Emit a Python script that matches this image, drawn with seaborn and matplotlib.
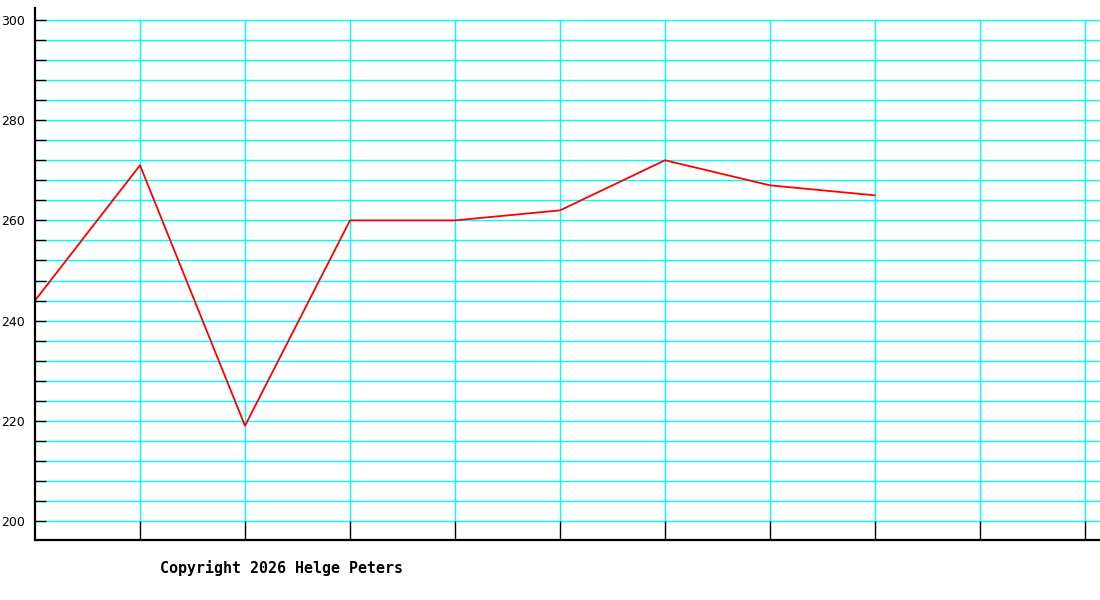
import matplotlib
matplotlib.use("Agg")
import matplotlib.pyplot as plt
import numpy as np
import pandas as pd
import seaborn as sns

# values
x_pos = [0, 1, 2, 3, 4, 5, 6, 7, 8]
values = [244, 271, 219, 260, 260, 262, 272, 267, 265]
y_major = [200, 220, 240, 260, 280, 300]
y_minor = list(range(200, 301, 4))
x_grid = [1, 2, 3, 4, 5, 6, 7, 8, 9, 10]


def draw():
    sns.set_style("white")
    plt.rcParams['font.family'] = ['DejaVu Sans']

    fig = plt.figure(figsize=(11, 6), dpi=100)
    ax = fig.add_axes([35 / 1100, 60 / 600, 1065 / 1100, 532 / 600])
    ax.set_axisbelow(False)

    data = pd.DataFrame({"x": x_pos, "y": values})

    # grid lines
    ax.hlines(y_minor, 0, 1, transform=ax.get_yaxis_transform(),
              colors="#00ffff", linewidth=1, zorder=1)
    ax.vlines(x_grid, 200, 300, colors="#00ffff", linewidth=1, zorder=1)

    sns.lineplot(x="x", y="y", data=data, color="#ff0000", linewidth=1.3,
                 ax=ax, zorder=3)

    ax.set_xlim(0, 1065 / 105)
    ax.set_ylim(200 - 19 / 5.01, 300 + 12 / 5.01)

    ax.set_xticks(x_grid)
    ax.set_xticklabels([])
    ax.set_yticks(y_major)
    ax.set_yticks(y_minor, minor=True)
    ax.set_yticklabels([str(v) for v in y_major], fontsize=9, color="black")

    ax.tick_params(axis="y", which="both", direction="in", length=8,
                   width=1, color="black", pad=7, left=True)
    ax.tick_params(axis="x", which="major", direction="in", length=13.7,
                   width=1, color="black", bottom=True)

    ax.set_xlabel("")
    ax.set_ylabel("")
    for side in ["top", "right"]:
        ax.spines[side].set_visible(False)
    for side in ["left", "bottom"]:
        ax.spines[side].set_linewidth(1.6)
        ax.spines[side].set_color("black")
        ax.spines[side].set_zorder(5)

    fig.text(160 / 1100, 1 - 568 / 600, "Copyright 2026 Helge Peters",
             fontsize=10.8, family="DejaVu Sans Mono", fontweight="bold",
             color="black", va="center", ha="left")

    fig.savefig("out.png", dpi=100)


def main():
    draw()


if __name__ == "__main__":
    main()
